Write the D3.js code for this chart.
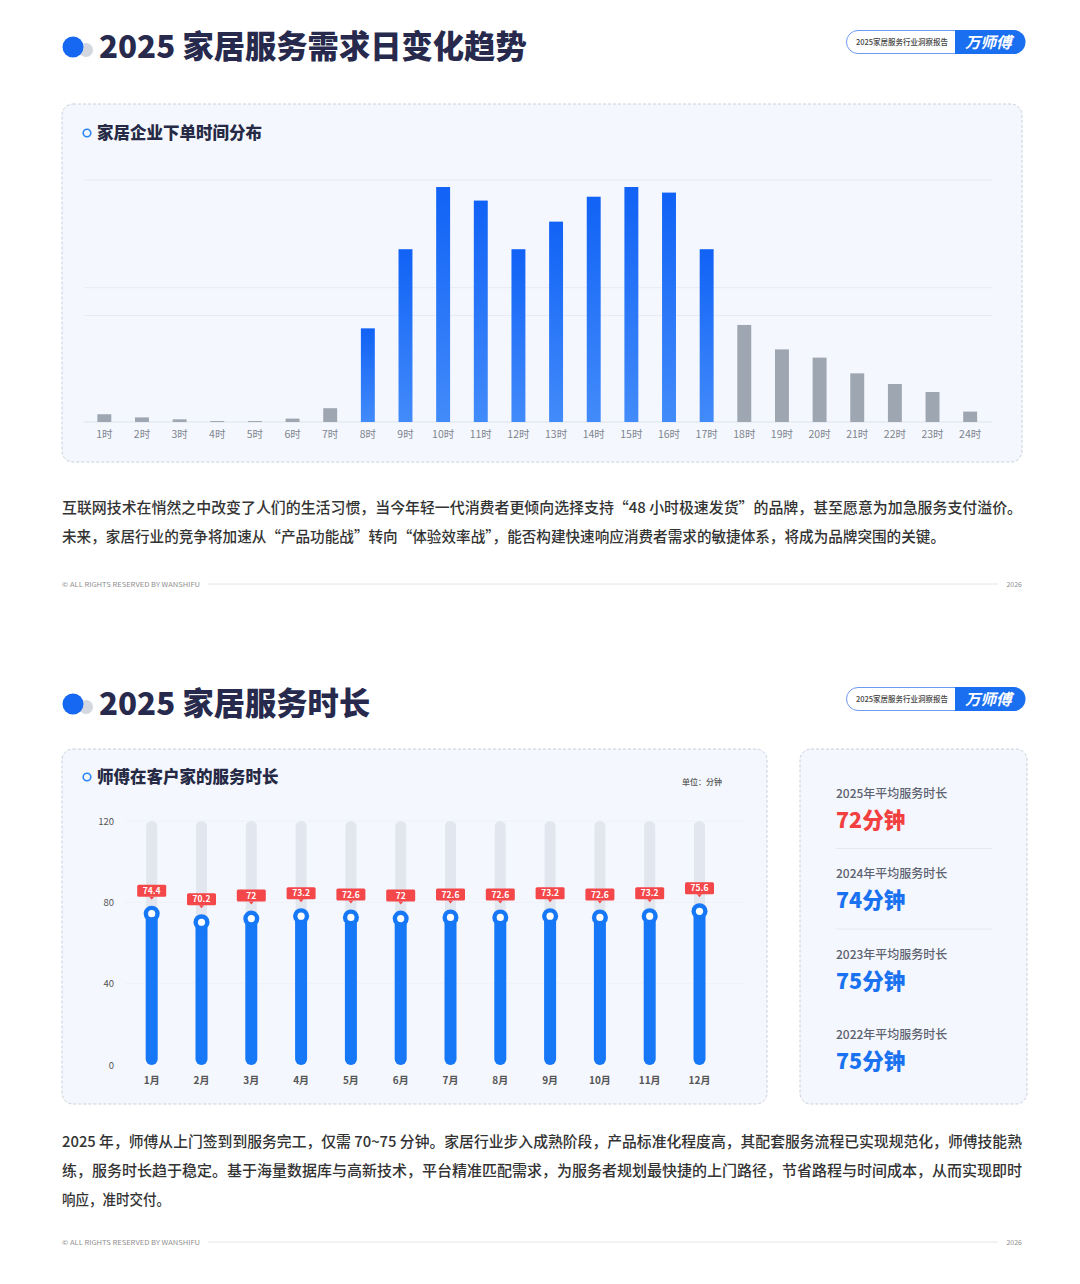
<!DOCTYPE html>
<html>
<head>
<meta charset="utf-8">
<script src="https://cdn.jsdelivr.net/npm/d3@7"></script>
<style>
  html, body { margin: 0; padding: 0; background: #fff; }
  svg { display: block; font-family: "Noto Sans CJK SC", "Noto Sans", sans-serif; }
</style>
</head>
<body>
<div id="page"></div>
<script>
// Page size
const width = 1080;
const height = 1284;

// Data: orders by hour (relative share, top gridline = 100)
const hours = ["1时","2时","3时","4时","5时","6时","7时","8时","9时","10时","11时","12时",
  "13时","14时","15时","16时","17时","18时","19时","20时","21时","22时","23时","24时"];
const orderValues = [3.2, 1.9, 1.1, 0.4, 0.4, 1.4, 5.7, 38.7, 71.4, 97.1, 91.5, 71.4,
  82.8, 93.1, 97.1, 94.8, 71.4, 40.1, 30.0, 26.6, 20.1, 15.7, 12.4, 4.3];
const peakHours = ["8时","9时","10时","11时","12时","13时","14时","15时","16时","17时"];
const orderGrid = [0, 44, 55.5, 100];

// Data: service duration per month (minutes)
const months = ["1月","2月","3月","4月","5月","6月","7月","8月","9月","10月","11月","12月"];
const durations = [74.4, 70.2, 72, 73.2, 72.6, 72, 72.6, 72.6, 73.2, 72.6, 73.2, 75.6];
const durationTicks = [0, 40, 80, 120];

// Data: yearly averages
const avgYears = ["2025年平均服务时长","2024年平均服务时长","2023年平均服务时长","2022年平均服务时长"];
const avgValues = [72, 74, 75, 75];

const para1 = [
  "互联网技术在悄然之中改变了人们的生活习惯，当今年轻一代消费者更倾向选择支持“48 小时极速发货”的品牌，甚至愿意为加急服务支付溢价。",
  "未来，家居行业的竞争将加速从“产品功能战”转向“体验效率战”，能否构建快速响应消费者需求的敏捷体系，将成为品牌突围的关键。"
];
const para2 = [
  "2025 年，师傅从上门签到到服务完工，仅需 70~75 分钟。家居行业步入成熟阶段，产品标准化程度高，其配套服务流程已实现规范化，师傅技能熟",
  "练，服务时长趋于稳定。基于海量数据库与高新技术，平台精准匹配需求，为服务者规划最快捷的上门路径，节省路程与时间成本，从而实现即时",
  "响应，准时交付。"
];

const navy = "#272a4d";
const blue = "#1677f7";
const red = "#f4474a";

const svg = d3.select("#page")
  .append("svg")
  .attr("width", width)
  .attr("height", height);

const defs = svg.append("defs");
const grad = defs.append("linearGradient")
  .attr("id", "barGrad")
  .attr("x1", 0).attr("y1", 0).attr("x2", 0).attr("y2", 1);
grad.append("stop").attr("offset", "0%").attr("stop-color", "#1162f6");
grad.append("stop").attr("offset", "100%").attr("stop-color", "#428bfa");


// Section header (title + badge)
function header(y, title){
  svg.append("circle").attr("cx", 86).attr("cy", y + 3).attr("r", 7).attr("fill", "#d3d7df");
  svg.append("circle").attr("cx", 73).attr("cy", y).attr("r", 10.5).attr("fill", "#1668f2");

  svg.append("text")
    .attr("x", 99).attr("y", y + 11)
    .attr("font-size", 31.3).attr("font-weight", 900)
    .attr("fill", navy)
    .text(title);

  // badge
  const g = svg.append("g").attr("transform", `translate(846,${y - 17})`);
  g.append("rect")
    .attr("x", 0.5).attr("y", 0.5).attr("width", 178).attr("height", 23).attr("rx", 11.5)
    .attr("fill", "#fff").attr("stroke", "#6e9af0").attr("stroke-width", 1);
  g.append("path")
    .attr("d", "M109,0 H167.5 A12,12 0 0 1 167.5,24 H109 Z")
    .attr("fill", "#1a6ff0");
  g.append("text")
    .attr("x", 10).attr("y", 15)
    .attr("font-size", 7.5).attr("font-weight", 500)
    .attr("fill", "#444")
    .text("2025家居服务行业洞察报告");
  g.append("text")
    .attr("x", 119).attr("y", 18)
    .attr("font-size", 15.5).attr("font-weight", 700)
    .attr("font-style", "italic")
    .attr("fill", "#fff")
    .text("万师傅");
  g.append("text")
    .attr("x", 166).attr("y", 10)
    .attr("font-size", 5).attr("fill", "#fff")
    .text("®");
}

function panel(x, y, w, h){
  svg.append("rect")
    .attr("x", x).attr("y", y).attr("width", w).attr("height", h)
    .attr("rx", 11)
    .attr("fill", "#f4f7fd")
    .attr("stroke", "#c8cfdb")
    .attr("stroke-width", 1)
    .attr("stroke-dasharray", "3,2");
}

function panelTitle(x, y, label){
  svg.append("circle").attr("cx", x).attr("cy", y)
    .attr("r", 3.8).attr("fill", "none").attr("stroke", "#2b86f5").attr("stroke-width", 1.6);
  svg.append("text")
    .attr("x", x + 10).attr("y", y + 6)
    .attr("font-size", 16.5).attr("font-weight", 900)
    .attr("fill", "#262a45")
    .text(label);
}

function paragraph(lines, y0, lengths){
  lines.forEach((t, i) => {
    const tx = svg.append("text")
      .attr("x", 62).attr("y", y0 + i * 29)
      .attr("font-size", 15).attr("font-weight", 500)
      .attr("fill", "#333")
      .text(t);
    if (lengths[i]) tx.attr("textLength", lengths[i]).attr("lengthAdjust", "spacingAndGlyphs");
  });
}

function footer(y){
  svg.append("text")
    .attr("x", 62).attr("y", y + 2.5)
    .attr("font-size", 6.5).attr("fill", "#8e8e8e")
    .attr("textLength", 138).attr("lengthAdjust", "spacingAndGlyphs")
    .text("© ALL RIGHTS RESERVED BY WANSHIFU");
  svg.append("line")
    .attr("x1", 208).attr("x2", 998).attr("y1", y).attr("y2", y)
    .attr("stroke", "#e6e6e6").attr("stroke-width", 1);
  svg.append("text")
    .attr("x", 1022).attr("y", y + 2.5)
    .attr("text-anchor", "end")
    .attr("font-size", 7).attr("fill", "#8e8e8e")
    .text("2026");
}


// ---------- Section 1 ----------
header(47, "2025 家居服务需求日变化趋势");
panel(62, 104, 960, 358);
panelTitle(87, 133, "家居企业下单时间分布");

const x1 = d3.scaleBand()
  .domain(hours)
  .range([85.5, 989])
  .paddingInner(0.63)
  .paddingOuter(0.315);

const y1 = d3.scaleLinear()
  .domain([0, 100])
  .range([422, 180]);

svg.append("g")
  .selectAll("line")
  .data(orderGrid)
  .join("line")
  .attr("x1", 84).attr("x2", 992)
  .attr("y1", d => y1(d)).attr("y2", d => y1(d))
  .attr("stroke", d => d === 0 ? "#dde3ec" : "#e7ecf4").attr("stroke-width", 1);

svg.append("g")
  .selectAll("rect")
  .data(hours.map((h, i) => ({h, v: orderValues[i]})))
  .join("rect")
  .attr("x", d => x1(d.h))
  .attr("y", d => y1(d.v))
  .attr("width", x1.bandwidth())
  .attr("height", d => y1(0) - y1(d.v))
  .attr("fill", d => peakHours.includes(d.h) ? "url(#barGrad)" : "#9ea6b2");

const ax1 = svg.append("g")
  .attr("transform", `translate(0,${y1(0)})`)
  .call(d3.axisBottom(x1).tickSizeInner(0).tickSizeOuter(0).tickPadding(9));
ax1.select(".domain").remove();
ax1.selectAll("text")
  .attr("font-size", 10.5).attr("fill", "#80858f")
  .attr("font-family", "'Noto Sans CJK SC', sans-serif");

paragraph(para1, 513, [960, 883]);
footer(584);


// ---------- Section 2 ----------
header(704, "2025 家居服务时长");
panel(62, 749, 705, 355);
panel(800, 749, 227, 355);
panelTitle(87, 777, "师傅在客户家的服务时长");

svg.append("text")
  .attr("x", 722).attr("y", 785)
  .attr("text-anchor", "end")
  .attr("font-size", 8).attr("font-weight", 500)
  .attr("fill", "#555")
  .text("单位：分钟");

const x2 = d3.scaleBand()
  .domain(months)
  .range([126.8, 724.4])
  .paddingInner(0.76)
  .paddingOuter(0.38);

const y2 = d3.scaleLinear()
  .domain([0, 120])
  .range([1065, 821]);

svg.append("g")
  .selectAll("line")
  .data(durationTicks.slice(1))
  .join("line")
  .attr("x1", 125).attr("x2", 745)
  .attr("y1", d => y2(d)).attr("y2", d => y2(d))
  .attr("stroke", "#eef2f8").attr("stroke-width", 1);

const ay2 = svg.append("g")
  .attr("transform", "translate(118,0)")
  .call(d3.axisLeft(y2).tickValues(durationTicks).tickSize(0).tickPadding(4));
ay2.select(".domain").remove();
ay2.selectAll("text")
  .attr("font-size", 9.5).attr("fill", "#555")
  .attr("font-family", "'Noto Sans CJK SC', sans-serif");

const cols = svg.append("g")
  .selectAll("g")
  .data(months.map((m, i) => ({m, v: durations[i]})))
  .join("g")
  .attr("transform", d => `translate(${x2(d.m) + x2.bandwidth() / 2},0)`);

// track
cols.append("rect")
  .attr("x", -5.5).attr("width", 11)
  .attr("y", y2(120)).attr("height", y2(0) - y2(120))
  .attr("rx", 5.5)
  .attr("fill", "#e2e6ee");

// value bar
cols.append("rect")
  .attr("x", -6).attr("width", 12)
  .attr("y", d => y2(d.v)).attr("height", d => y2(0) - y2(d.v))
  .attr("rx", 6)
  .attr("fill", blue);

// marker
cols.append("circle")
  .attr("cy", d => y2(d.v)).attr("r", 8)
  .attr("fill", blue);
cols.append("circle")
  .attr("cy", d => y2(d.v)).attr("r", 3.6)
  .attr("fill", "#fff");

// label tag
const tag = cols.append("g")
  .attr("transform", d => `translate(0,${y2(d.v) - 23})`);
tag.append("rect")
  .attr("x", -14.5).attr("y", -6).attr("width", 29).attr("height", 12)
  .attr("rx", 1.5)
  .attr("fill", red);
tag.append("path")
  .attr("d", "M-2.5,6 L2.5,6 L0,9 Z")
  .attr("fill", red);
tag.append("text")
  .attr("y", 3.2)
  .attr("text-anchor", "middle")
  .attr("font-size", 8.5).attr("font-weight", 700)
  .attr("fill", "#fff")
  .text(d => d.v);

const ax2 = svg.append("g")
  .attr("transform", `translate(0,${y2(0)})`)
  .call(d3.axisBottom(x2).tickSize(0).tickPadding(12));
ax2.select(".domain").remove();
ax2.selectAll("text")
  .attr("font-size", 10).attr("font-weight", 700).attr("fill", "#555")
  .attr("font-family", "'Noto Sans CJK SC', sans-serif");

// yearly averages
const avg = svg.append("g")
  .selectAll("g")
  .data(avgYears.map((t, i) => ({t, v: avgValues[i], i})))
  .join("g")
  .attr("transform", d => `translate(836,${793 + d.i * 80.5})`);

avg.append("text")
  .attr("y", 4.5)
  .attr("font-size", 12).attr("font-weight", 500)
  .attr("fill", "#5d6270")
  .text(d => d.t);
avg.append("text")
  .attr("y", 34.5)
  .attr("font-size", 21.5).attr("font-weight", 900)
  .attr("fill", d => d.i === 0 ? "#f1403f" : "#1a72f0")
  .text(d => `${d.v}分钟`);
avg.filter(d => d.i < 2).append("line")
  .attr("x1", 0).attr("x2", 156)
  .attr("y1", 55.5).attr("y2", 55.5)
  .attr("stroke", "#e4e8f0").attr("stroke-width", 1);

paragraph(para2, 1147, [960, 960, 108]);
footer(1242);
</script>
</body>
</html>
